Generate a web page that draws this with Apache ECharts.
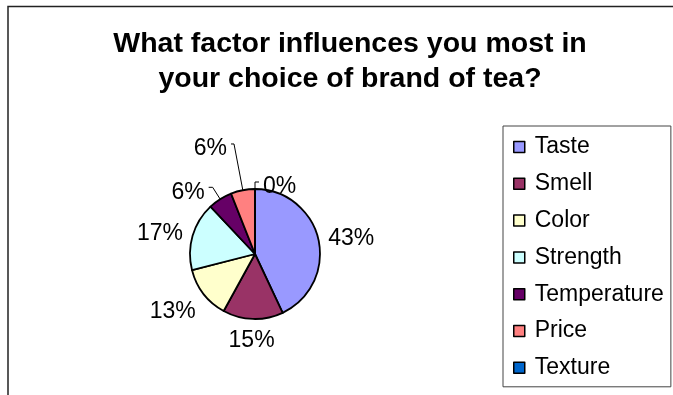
<!DOCTYPE html>
<html>
<head>
<meta charset="utf-8">
<script src="https://cdn.jsdelivr.net/npm/echarts@6/dist/echarts.min.js"></script>
<style>
  html, body { margin: 0; padding: 0; background: #fff; }
  #chart { width: 673px; height: 395px; }
</style>
</head>
<body>
<div id="chart"></div>
<script>
// Survey answers: share of respondents (percent) per deciding factor
const categories = ['Taste', 'Smell', 'Color', 'Strength', 'Temperature', 'Price', 'Texture'];
const shares = [43, 15, 13, 17, 6, 6, 0];

// Slice fills
const sliceColors = ['#9999FF', '#993366', '#FFFFCC', '#CCFFFF', '#660066', '#FF8080', '#0066CC'];

// Leader lines for the small slices: radial length, horizontal tail, side of the text
const leaders = {
  4: { len: 14, len2: 4, side: -1 },
  5: { len: 47, len2: 3, side: -1 },
  6: { len: 7, len2: 4, side: 1 }
};

const FONT = "'Liberation Sans', Arial, sans-serif";
const PIE_CENTER = [255, 254];
const PIE_RADIUS = 65;
// canvas 'middle' sits a little above the cap-height centre of the digits
const TEXT_DROP = 4;

const chart = echarts.init(document.getElementById('chart'), null, { renderer: 'canvas' });

const total = shares.reduce((a, b) => a + b, 0);

// Direction (unit vector) of the middle of each slice, clockwise from 12 o'clock
function sliceDirection(i) {
  let before = 0;
  for (let k = 0; k < i; k++) before += shares[k];
  const frac = (before + shares[i] / 2) / total;
  const a = frac * Math.PI * 2;
  return [Math.sin(a), -Math.cos(a)];
}

function clamp1(v) { return Math.max(-1, Math.min(1, v)); }

const pieData = categories.map((name, i) => ({
  name: name,
  value: shares[i],
  itemStyle: { color: sliceColors[i] },
  labelLine: { show: !!leaders[i] }
}));

chart.setOption({
  animation: false,
  backgroundColor: '#ffffff',
  graphic: [{
    type: 'rect',
    silent: true,
    shape: { x: 8, y: 6.5, width: 720, height: 420 },
    style: { fill: 'none', stroke: '#222', lineWidth: 1.5 }
  }],
  title: {
    text: 'What factor influences you most in\nyour choice of brand of tea?',
    left: 345,
    top: 22,
    textAlign: 'center',
    textStyle: {
      fontFamily: FONT,
      fontSize: 28.5,
      fontWeight: 'bold',
      color: '#000',
      lineHeight: 35
    }
  },
  legend: {
    orient: 'vertical',
    left: 503,
    top: 126,
    padding: [8, 7, 6, 10],
    itemGap: 10.8,
    itemWidth: 11,
    itemHeight: 11,
    icon: 'rect',
    borderColor: '#444',
    borderWidth: 1,
    selectedMode: false,
    itemStyle: { borderColor: '#000', borderWidth: 1.5 },
    textStyle: {
      fontFamily: FONT,
      fontSize: 23,
      color: '#000',
      lineHeight: 26,
      padding: [0, 0, 0, 5]
    },
    data: categories
  },
  series: [{
    type: 'pie',
    center: PIE_CENTER,
    radius: PIE_RADIUS,
    startAngle: 90,
    clockwise: true,
    avoidLabelOverlap: false,
    itemStyle: { borderColor: '#000', borderWidth: 1.8 },
    emphasis: { disabled: true },
    label: {
      show: true,
      position: 'outside',
      formatter: '{c}%',
      fontFamily: FONT,
      fontSize: 23,
      color: '#000'
    },
    labelLine: {
      length: 10,
      length2: 4,
      lineStyle: { color: '#000', width: 1 }
    },
    labelLayout: function (p) {
      const i = p.dataIndex;
      const d = sliceDirection(i);
      const rim = [PIE_CENTER[0] + d[0] * PIE_RADIUS, PIE_CENTER[1] + d[1] * PIE_RADIUS];
      const ld = leaders[i];
      if (ld) {
        const p2 = [rim[0] + d[0] * ld.len, rim[1] + d[1] * ld.len];
        const p3 = [p2[0] + ld.side * ld.len2, p2[1]];
        return {
          x: p3[0] + ld.side * 4,
          y: p3[1] + 1 + TEXT_DROP,
          align: ld.side < 0 ? 'right' : 'left',
          verticalAlign: 'middle',
          labelLinePoints: [rim, p2, p3]
        };
      }
      const hw = p.labelRect.width / 2;
      const hh = 8;
      const g = 10;
      return {
        x: rim[0] + d[0] * g + clamp1(d[0] * 1.5) * hw,
        y: rim[1] + d[1] * g + clamp1(d[1] * 1.5) * hh + TEXT_DROP,
        align: 'center',
        verticalAlign: 'middle'
      };
    },
    data: pieData
  }]
});
</script>
</body>
</html>
